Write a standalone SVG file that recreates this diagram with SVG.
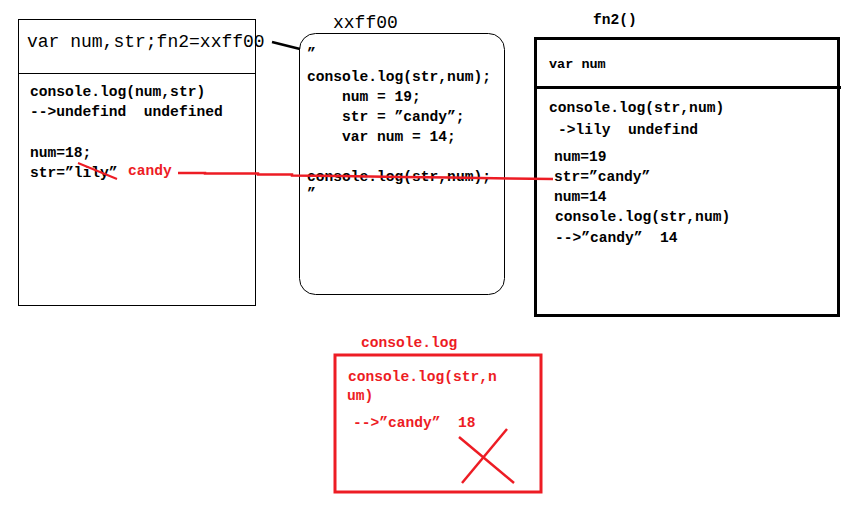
<svg xmlns="http://www.w3.org/2000/svg" width="854" height="506" viewBox="0 0 854 506">
<style>
text{font-family:"Liberation Mono","DejaVu Sans Mono",monospace;font-size:14.6px;font-weight:bold;fill:#000;white-space:pre}
.big{font-size:18px;font-weight:normal}
.sm{font-size:13.5px}
.red{fill:#ed1c24}
.box{fill:#fff;stroke:#000}
.rl{stroke:#ed1c24;fill:none}
</style>
<rect width="854" height="506" fill="#fff"/>
<g id="global">
<rect class="box" x="18.5" y="19.5" width="237" height="286" stroke-width="1"/>
<line x1="18" y1="73.5" x2="256" y2="73.5" stroke="#000"/>
<text class="big" x="27" y="47">var num,str;fn2=xxff00</text>
<text x="30" y="96">console.log(num,str)</text>
<text x="30" y="116">--&gt;undefind  undefined</text>
<text x="30" y="157">num=18;</text>
<text x="30" y="177">str=”lily”</text>
<line class="rl" x1="78" y1="163" x2="117" y2="179" stroke-width="2"/>
<text class="red" x="128" y="175">candy</text>
</g>
<g id="fn2-code">
<text class="big" x="333" y="28">xxff00</text>
<rect class="box" x="299.5" y="33.5" width="205" height="261" rx="16" stroke-width="1"/>
<text x="307" y="58">”</text>
<text x="307" y="81">console.log(str,num);</text>
<text x="342" y="101">num = 19;</text>
<text x="342" y="121">str = ”candy”;</text>
<text x="342" y="141">var num = 14;</text>
<text x="307" y="181">console.log(str,num);</text>
<text x="307" y="198">”</text>
</g>
<g id="fn2-scope">
<text x="593" y="24">fn2()</text>
<rect class="box" x="535.5" y="38.5" width="303" height="277" stroke-width="3"/>
<line x1="535" y1="87.5" x2="841" y2="87.5" stroke="#000" stroke-width="3"/>
<text class="sm" x="549" y="68">var num</text>
<text x="549" y="112">console.log(str,num)</text>
<text x="558" y="134">-&gt;lily  undefind</text>
<text x="554" y="161">num=19</text>
<text x="554" y="181">str=”candy”</text>
<text x="554" y="201">num=14</text>
<text x="555" y="221">console.log(str,num)</text>
<text x="555" y="242">--&gt;”candy”  14</text>
</g>
<g id="console-log">
<text class="red" x="361" y="347">console.log</text>
<rect x="335" y="355" width="206" height="137" fill="none" stroke="#ed1c24" stroke-width="3"/>
<text class="red" x="348" y="381">console.log(str,n</text>
<text class="red" x="347" y="400">um)</text>
<text class="red" x="353" y="427">--&gt;”candy”  18</text>
<line class="rl" x1="459" y1="437" x2="514" y2="483" stroke-width="2.5"/>
<line class="rl" x1="507" y1="429" x2="462" y2="483" stroke-width="2.5"/>
</g>
<g id="connectors">
<polyline points="272,42 300,49" fill="none" stroke="#000" stroke-width="2.5"/>
<polyline class="rl" points="178,173 205,173 205,173.5 258,173.5 258,174.5 292,174.5 292,175.5 340,176 400,177 450,177.5 510,178.5 553,179" stroke-width="2.5"/>
</g>
</svg>
